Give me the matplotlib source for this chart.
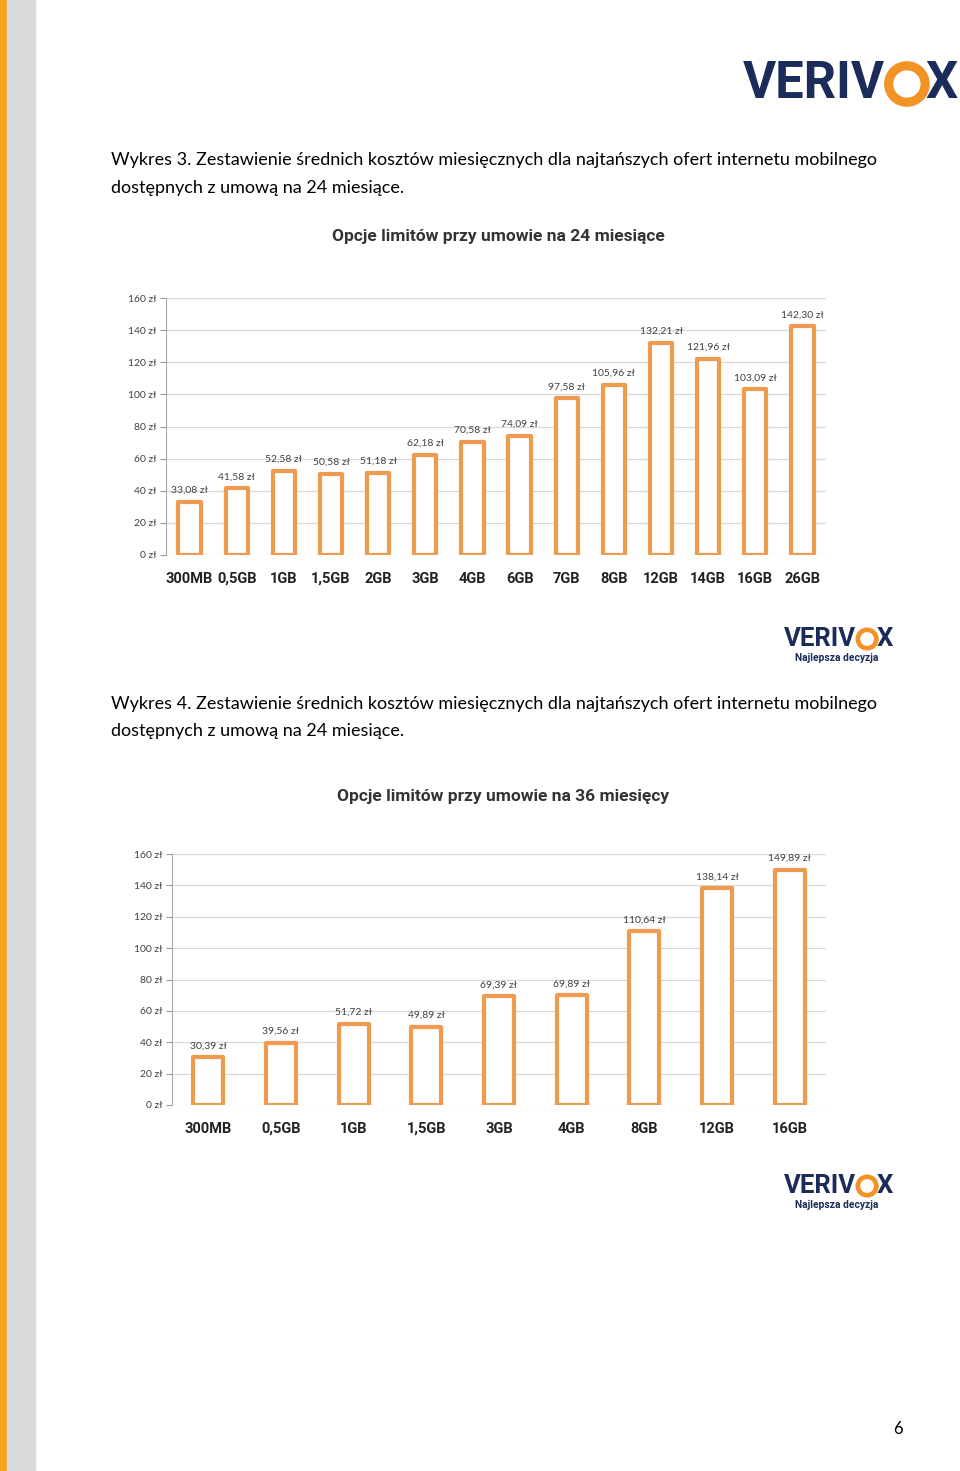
import matplotlib.pyplot as plt
from matplotlib.patches import Rectangle, Circle
from matplotlib.ticker import FuncFormatter

plt.rcParams['font.family'] = ['Lato', 'DejaVu Sans']
BOLD = ['Roboto', 'DejaVu Sans']

# wykres 3 - umowa 24 miesiace
cats_24 = ['300MB', '0,5GB', '1GB', '1,5GB', '2GB', '3GB', '4GB', '6GB',
           '7GB', '8GB', '12GB', '14GB', '16GB', '26GB']
vals_24 = [33.08, 41.58, 52.58, 50.58, 51.18, 62.18, 70.58, 74.09,
           97.58, 105.96, 132.21, 121.96, 103.09, 142.30]

# wykres 4 - umowa 36 miesiecy
cats_36 = ['300MB', '0,5GB', '1GB', '1,5GB', '3GB', '4GB', '8GB', '12GB', '16GB']
vals_36 = [30.39, 39.56, 51.72, 49.89, 69.39, 69.89, 110.64, 138.14, 149.89]

W, H = 960, 1471
ORANGE = '#EF9A4E'
NAVY = '#1B2B5A'
TXT = '#404040'

fig = plt.figure(figsize=(W / 100, H / 100), dpi=100)


def px(x, y):
    # piksele (od gory) -> wspolrzedne figury
    return x / W, 1 - y / H


def zl(v):
    return ('%.2f' % v).replace('.', ',') + ' zł'


def bar_chart(box, cats, vals, width, title, title_xy):
    x0, y0, x1, y1 = box
    ax = fig.add_axes([x0 / W, 1 - y1 / H, (x1 - x0) / W, (y1 - y0) / H])
    pos = range(len(cats))
    ax.bar(pos, vals, width=width, facecolor='white', edgecolor=ORANGE,
           linewidth=3, joinstyle='round', zorder=3)
    for i, v in zip(pos, vals):
        ax.annotate(zl(v), (i, v), xytext=(0, 5), textcoords='offset points',
                    ha='center', va='bottom', fontsize=7.5, color=TXT, zorder=4)
    ax.set_xlim(-0.5, len(cats) - 0.5)
    ax.set_ylim(0, 160)
    ax.set_yticks(range(0, 161, 20))
    ax.yaxis.set_major_formatter(FuncFormatter(lambda v, p: '%d zł' % v))
    ax.set_xticks(list(pos))
    ax.set_xticklabels(cats, fontsize=10.5, fontweight='bold', family=BOLD,
                       color='#222222')
    ax.tick_params(axis='x', length=0, pad=12)
    ax.tick_params(axis='y', length=4, width=0.8, color='#999999',
                   labelsize=7.5, labelcolor=TXT, pad=3)
    ax.grid(axis='y', color='#D9D9D9', linewidth=0.9, zorder=0)
    for s in ['top', 'right', 'bottom']:
        ax.spines[s].set_visible(False)
    ax.spines['left'].set_color('#AAAAAA')
    ax.set_axisbelow(True)
    fig.text(*px(*title_xy), title, ha='center', va='center', family=BOLD,
             fontsize=12.5, fontweight='bold', color='#333333')
    return ax


def logo(x_right, y_mid, size, tagline=False):
    # VERIVOX: litery granatowe, O jako pomaranczowy pierscien
    xr, yr = px(x_right, y_mid)
    fig.text(xr, yr, 'X', ha='right', va='center', fontsize=size,
             fontweight='bold', family=BOLD, color=NAVY)
    ring_r = size * 0.5
    cx = x_right - size * 0.9 - ring_r
    fig.patches.append(Circle((cx, H - y_mid), ring_r, transform=None,
                              facecolor='none', edgecolor='#F39325',
                              linewidth=size * 0.18))
    fig.text(*px(cx - ring_r - size * 0.1, y_mid), 'VERIV', ha='right',
             va='center', fontsize=size, fontweight='bold', family=BOLD,
             color=NAVY)
    if tagline:
        fig.text(*px(x_right - size * 3.05, y_mid + size * 1.05),
                 'Najlepsza decyzja', ha='center', va='center',
                 fontsize=size * 0.4, fontweight='bold', family=BOLD,
                 color=NAVY)


# pasek po lewej
fig.patches.append(Rectangle((0, 0), 7, H, transform=None, color='#F7A21B'))
fig.patches.append(Rectangle((7, 0), 28, H, transform=None, color='#D9DBDB'))

logo(958, 84, 36.5)

cap_kw = dict(ha='left', va='center', fontsize=13, color='black')
fig.text(*px(111, 160), 'Wykres 3. Zestawienie średnich kosztów miesięcznych dla '
         'najtańszych ofert internetu mobilnego', **cap_kw)
fig.text(*px(111, 188), 'dostępnych z umową na 24 miesiące.', **cap_kw)

bar_chart((166, 298, 826, 555), cats_24, vals_24, 0.47,
          'Opcje limitów przy umowie na 24 miesiące', (498, 237))

logo(893, 639, 18.5, tagline=True)

fig.text(*px(111, 704), 'Wykres 4. Zestawienie średnich kosztów miesięcznych dla '
         'najtańszych ofert internetu mobilnego', **cap_kw)
fig.text(*px(111, 731), 'dostępnych z umową na 24 miesiące.', **cap_kw)

bar_chart((172, 854, 826, 1105), cats_36, vals_36, 0.41,
          'Opcje limitów przy umowie na 36 miesięcy', (503, 796))

logo(893, 1186, 18.5, tagline=True)

fig.text(*px(898, 1429), '6', ha='center', va='center', fontsize=12, color='black')

fig.savefig('out.png', dpi=100)
